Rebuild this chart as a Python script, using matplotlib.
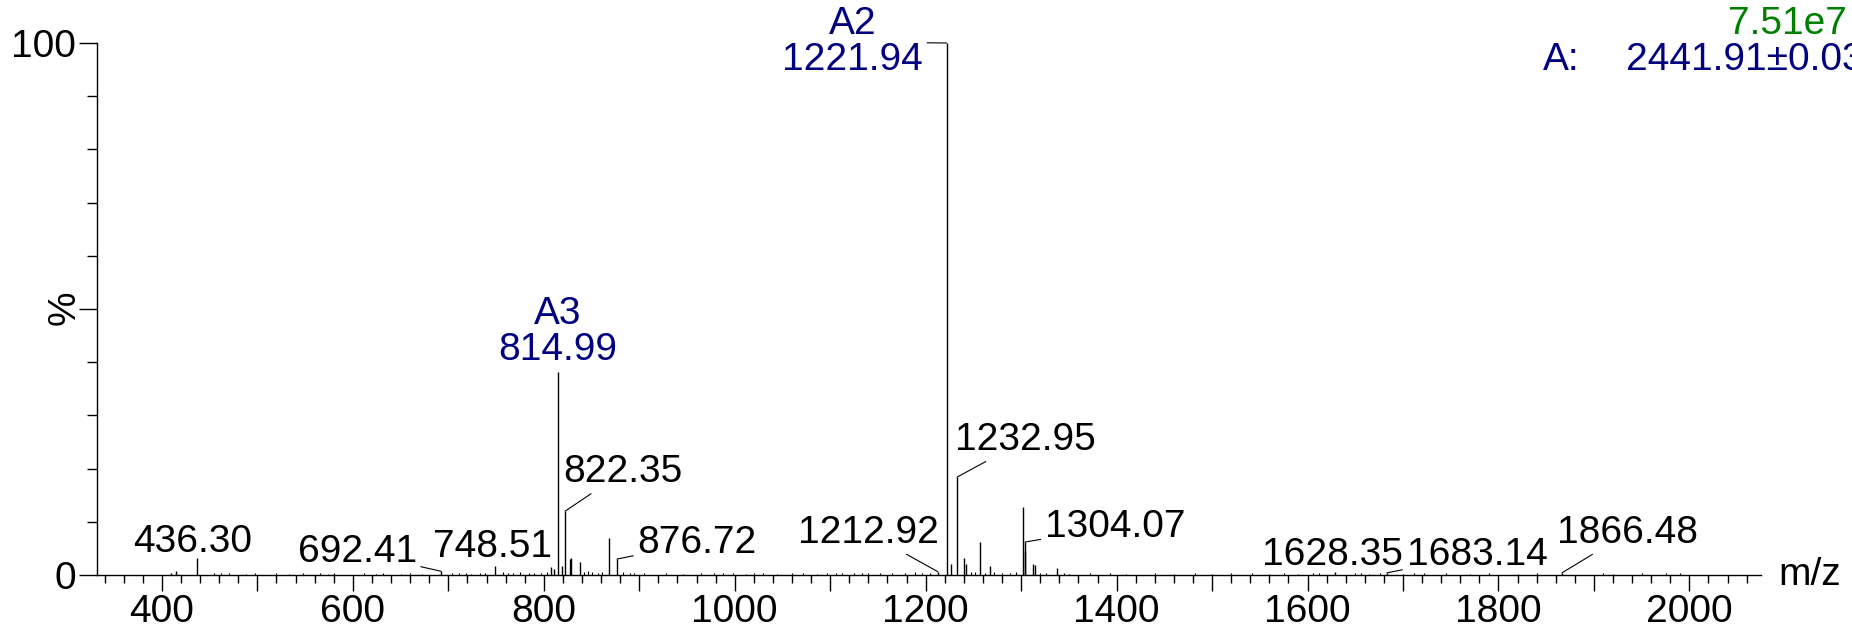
import matplotlib
matplotlib.use("Agg")
import matplotlib.pyplot as plt
from matplotlib.ticker import MultipleLocator, FixedLocator, FuncFormatter

plt.rcParams['font.family'] = ['Liberation Sans', 'DejaVu Sans']

# labelled peaks: m/z, intensity (%), label text, colour
label_mz = [436.30, 692.41, 748.51, 814.99, 822.35, 876.72, 1212.92, 1221.94,
            1232.95, 1304.07, 1628.35, 1683.14, 1866.48]
label_int = [3.2, 0.7, 1.6, 38.2, 12.0, 3.0, 0.6, 100.0, 18.4, 6.2, 0.5, 0.4, 0.4]
label_txt = ["436.30", "692.41", "748.51", "A3\n814.99", "822.35", "876.72", "1212.92",
             "A2\n1221.94", "1232.95", "1304.07", "1628.35", "1683.14", "1866.48"]
label_col = ["black", "black", "black", "navy", "black", "black", "black",
             "navy", "black", "black", "black", "black", "black"]

# other visible peaks
peak_mz = [410, 415, 808, 810.5, 819, 827, 829, 838, 868, 1226.9, 1240.1, 1242.6,
           1256.5, 1267, 1301.9, 1303.7, 1312.4, 1314.8, 1337.9]
peak_int = [0.4, 0.8, 1.5, 1.2, 1.7, 3.0, 3.2, 2.4, 7.0, 2.0, 3.2, 2.0,
            6.2, 1.7, 12.8, 4.5, 2.0, 1.8, 1.3]

# baseline noise
noise_mz = [455, 462, 470, 488, 497, 520, 533, 548, 566, 574, 580, 612, 624, 632, 650,
            660, 672, 704, 711, 718, 724, 733, 738, 757, 762, 768, 775, 784, 790, 797,
            803, 842, 846, 851, 857, 861, 883, 890, 895, 905, 928, 946, 965, 978, 988,
            998, 1012, 1020, 1030, 1044, 1060, 1072, 1086, 1097, 1106, 1112, 1125, 1133,
            1140, 1152, 1165, 1178, 1189, 1196, 1205, 1248, 1252, 1262, 1272, 1280, 1288,
            1295, 1320, 1326, 1345, 1350, 1372, 1393, 1410, 1440, 1460, 1482, 1500, 1520,
            1542, 1560, 1575, 1590, 1606, 1612, 1650, 1656, 1664, 1676, 1700, 1712, 1722,
            1745, 1770, 1790, 1820, 1840, 1910, 1920, 1950, 1976, 1990]
noise_int = [0.3, 0.4, 0.3, 0.2, 0.3, 0.3, 0.2, 0.3, 0.4, 0.2, 0.3, 0.3, 0.2, 0.3, 0.2,
             0.3, 0.2, 0.3, 0.4, 0.3, 0.2, 0.3, 0.4, 0.5, 0.4, 0.3, 0.5, 0.4, 0.3, 0.4,
             0.5, 0.6, 0.8, 0.5, 0.4, 0.6, 0.5, 0.4, 0.3, 0.3, 0.3, 0.2, 0.3, 0.3, 0.4,
             0.3, 0.2, 0.3, 0.3, 0.2, 0.3, 0.3, 0.2, 0.3, 0.4, 0.3, 0.3, 0.4, 0.3, 0.3,
             0.4, 0.4, 0.5, 0.3, 0.4, 0.6, 0.5, 0.4, 0.5, 0.3, 0.4, 0.5, 0.4, 0.3, 0.3,
             0.2, 0.3, 0.3, 0.2, 0.3, 0.2, 0.3, 0.2, 0.3, 0.3, 0.2, 0.3, 0.2, 0.3, 0.4,
             0.3, 0.3, 0.2, 0.3, 0.2, 0.3, 0.3, 0.3, 0.2, 0.3, 0.2, 0.3, 0.3, 0.2, 0.3, 0.3,
             0.3]

# label offsets from peak top, in pixels, and whether a leader line is drawn
label_off = [(-4, 16), (-84, 19), (-2, 19), (0, 40), (58, 39), (80, 16), (-70, 39),
             (-94, 1), (68, 37), (90, 15), (-2, 17), (90, 18), (66, 40)]
label_leader = [False, True, False, False, True, True, True, True, True, True, False, True, True]

FS = 28

fig = plt.figure(figsize=(18.52, 6.29), dpi=100)
ax = fig.add_axes([97 / 1852, 54 / 629, (1761 - 97) / 1852, 532 / 629])

ax.vlines(noise_mz, 0, noise_int, color="black", lw=0.8)
ax.vlines(peak_mz, 0, peak_int, color="black", lw=1.0)
ax.vlines(label_mz, 0, label_int, color="black", lw=1.0, clip_on=False)

for mz, h, t, c, off, lead in zip(label_mz, label_int, label_txt, label_col, label_off, label_leader):
    ap = dict(arrowstyle="-", lw=0.8, color="black", shrinkA=1, shrinkB=0) if lead else None
    ax.annotate(t, xy=(mz, h), xytext=off, textcoords="offset pixels",
                ha="center", va="center", fontsize=FS, color=c, linespacing=1.0,
                arrowprops=ap, annotation_clip=False)

ax.set_xlim(332, 2075)
ax.set_ylim(0, 100)
for s in ["top", "right"]:
    ax.spines[s].set_visible(False)
for s in ["left", "bottom"]:
    ax.spines[s].set_linewidth(1.0)

ax.xaxis.set_major_locator(MultipleLocator(100))
ax.xaxis.set_minor_locator(MultipleLocator(20))
ax.xaxis.set_major_formatter(FuncFormatter(lambda v, p: "%d" % v if int(round(v)) % 200 == 0 else ""))
ax.yaxis.set_major_locator(FixedLocator([0, 50, 100]))
ax.yaxis.set_minor_locator(MultipleLocator(10))
ax.set_yticklabels(["0", "", "100"])

ax.tick_params(axis="x", which="major", length=11.5, width=1.0, labelsize=FS, pad=2)
ax.tick_params(axis="x", which="minor", length=5.8, width=1.0)
ax.tick_params(axis="y", which="major", length=13, width=1.0, labelsize=FS, pad=2)
ax.tick_params(axis="y", which="minor", length=7, width=1.0)

fig.text(65 / 1852, 1 - 308 / 629, "%", rotation=90, ha="center", va="center", fontsize=FS)
fig.text(1778 / 1852, 1 - 575 / 629, "m/z", ha="left", va="center", fontsize=FS)
fig.text(1728 / 1852, 1 - 24 / 629, "7.51e7", ha="left", va="center", fontsize=FS, color="#008000")
fig.text(1543 / 1852, 1 - 60 / 629, "A:", ha="left", va="center", fontsize=FS, color="navy")
fig.text(1626 / 1852, 1 - 60 / 629, "2441.91\u00b10.03", ha="left", va="center", fontsize=FS, color="navy")

fig.savefig("out.png", dpi=100)
